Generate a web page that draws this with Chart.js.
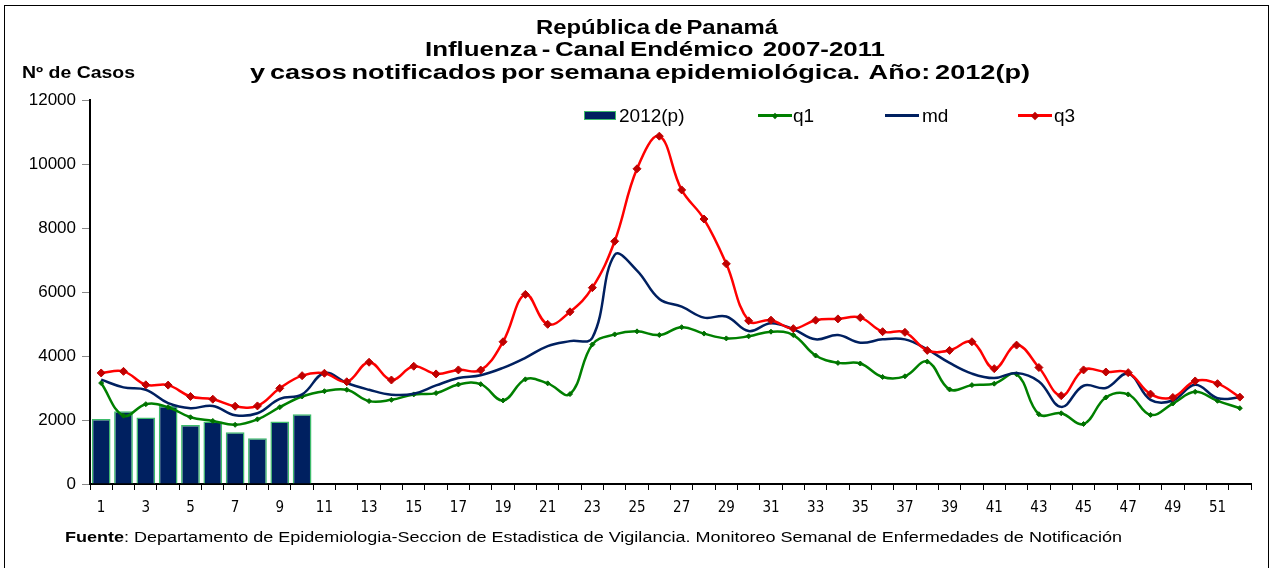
<!DOCTYPE html>
<html>
<head>
<meta charset="utf-8">
<script src="https://cdn.jsdelivr.net/npm/chart.js@4.4.0/dist/chart.umd.min.js"></script>
<style>
  body { margin: 0; background: #fff; font-family: 'Liberation Sans', Arial, sans-serif; color: #000; }
  #marco { position: absolute; left: 4px; top: 5px; width: 1263px; height: 620px; border: 1px solid #000; }
  #contenedor { position: absolute; left: 0; top: 0; width: 1273px; height: 568px; }
  .ajustar { position: absolute; white-space: nowrap; transform-origin: 0 50%; }
  .titulo { font-weight: bold; font-size: 20px; line-height: 22px; word-spacing: -2px; }
  #ejeY { top: 64px; font-weight: bold; font-size: 16px; }
  #fuente { top: 529px; font-size: 14px; }
  .ley { position: absolute; top: 106px; font-size: 19px; line-height: 20px; }
  .muestra { position: absolute; }
</style>
</head>
<body>
<div id="marco"></div>
<div id="contenedor"><canvas id="grafica" width="1273" height="568"></canvas></div>

<div class="ajustar titulo" id="t1" style="top:16px">República de Panamá</div>
<div class="ajustar titulo" id="t2" style="top:38px">Influenza - Canal Endémico&nbsp; 2007-2011</div>
<div class="ajustar titulo" id="t3" style="top:61px">y casos notificados por semana epidemiológica.&nbsp; Año: 2012(p)</div>
<div class="ajustar" id="ejeY">Nº de Casos</div>

<div id="leyenda"></div>

<div class="ajustar" id="fuente"><b>Fuente</b>: Departamento de Epidemiologia-Seccion de Estadistica de Vigilancia. Monitoreo Semanal de Enfermedades de Notificación</div>

<script>
// --- DATOS ---
const semanas = ['1','2','3','4','5','6','7','8','9','10','11','12','13','14','15','16','17','18','19','20',
  '21','22','23','24','25','26','27','28','29','30','31','32','33','34','35','36','37','38','39','40',
  '41','42','43','44','45','46','47','48','49','50','51','52'];

const casos2012 = [2030, 2270, 2080, 2440, 1840, 1950, 1615, 1430, 1950, 2180];

const q1 = [3155, 2135, 2495, 2400, 2085, 1970, 1850, 2020, 2400, 2735,
  2900, 2945, 2590, 2630, 2800, 2840, 3110, 3120, 2610, 3270,
  3145, 2810, 4360, 4675, 4770, 4655, 4900, 4700, 4550, 4615,
  4760, 4655, 4015, 3785, 3765, 3345, 3365, 3825, 2955, 3090,
  3135, 3430, 2180, 2210, 1875, 2705, 2800, 2160, 2515, 2880,
  2600, 2370];

const md = [3260, 3020, 2945, 2525, 2370, 2440, 2150, 2210, 2660, 2800,
  3470, 3155, 2945, 2790, 2820, 3080, 3310, 3400, 3630, 3945,
  4310, 4465, 4570, 7160, 6670, 5780, 5540, 5200, 5235, 4780,
  5025, 4835, 4520, 4655, 4415, 4520, 4520, 4205, 3785, 3450,
  3310, 3470, 3205, 2410, 3070, 3000, 3450, 2630, 2610, 3100,
  2685, 2700];

const q3 = [3470, 3520, 3100, 3090, 2735, 2650, 2430, 2440, 2990, 3385,
  3460, 3195, 3805, 3250, 3680, 3440, 3565, 3560, 4445, 5925,
  4990, 5380, 6135, 7585, 9850, 10870, 9190, 8280, 6880, 5100,
  5120, 4855, 5120, 5160, 5200, 4760, 4740, 4175, 4175, 4445,
  3605, 4340, 3640, 2760, 3565, 3500, 3480, 2810, 2705, 3220,
  3135, 2715];

const colorBarra = '#002060';
const bordeBarra = '#3dbb6b';
const colorQ1 = '#008000';
const colorMd = '#002060';
const colorQ3 = '#ff0000';

// Estira un texto en horizontal para que ocupe [izq, der]
function ajustarAncho(id, izq, der) {
  const el = document.getElementById(id);
  const natural = el.getBoundingClientRect().width;
  el.style.left = izq + 'px';
  el.style.transform = `scaleX(${(der - izq) / natural})`;
}
ajustarAncho('t1', 536, 778);
ajustarAncho('t2', 425, 885);
ajustarAncho('t3', 250, 1030);
ajustarAncho('ejeY', 22, 135);
ajustarAncho('fuente', 65, 1122);

// Leyenda en HTML (dentro del área de la gráfica)
function crearLeyenda() {
  const ley = document.getElementById('leyenda');
  const items = [
    { tipo: 'barra', x: 584, texto: '2012(p)', tx: 619 },
    { tipo: 'linea', x: 758, color: colorQ1, marca: '#007000', r: 3, texto: 'q1', tx: 793 },
    { tipo: 'linea', x: 885, color: colorMd, marca: null, texto: 'md', tx: 922 },
    { tipo: 'linea', x: 1018, color: colorQ3, marca: '#c00000', r: 4, texto: 'q3', tx: 1054 }
  ];
  let html = '';
  items.forEach(it => {
    if (it.tipo === 'barra') {
      html += `<div class="muestra" style="left:${it.x}px;top:111px;width:30px;height:7px;background:${colorBarra};border:1px solid ${bordeBarra};"></div>`;
    } else {
      html += `<div class="muestra" style="left:${it.x}px;top:114px;width:34px;height:3px;background:${it.color};"></div>`;
      if (it.marca) {
        html += `<div class="muestra" style="left:${it.x + 17 - it.r}px;top:${115.5 - it.r}px;width:${it.r * 2}px;height:${it.r * 2}px;background:${it.marca};transform:rotate(45deg) scale(0.75);"></div>`;
      }
    }
    html += `<div class="ley" style="left:${it.tx}px">${it.texto}</div>`;
  });
  ley.innerHTML = html;
}
crearLeyenda();

const ctx = document.getElementById('grafica').getContext('2d');
const miGrafica = new Chart(ctx, {
  type: 'bar',
  data: {
    labels: semanas,
    datasets: [
      { type: 'line', label: 'q3', data: q3, borderColor: colorQ3, borderWidth: 2.5, tension: 0.4,
        pointStyle: 'rectRot', pointRadius: 4, pointBackgroundColor: '#c00000', pointBorderColor: '#c00000', pointBorderWidth: 1, order: 1 },
      { type: 'line', label: 'md', data: md, borderColor: colorMd, borderWidth: 2.5, tension: 0.4,
        pointRadius: 0, order: 2 },
      { type: 'line', label: 'q1', data: q1, borderColor: colorQ1, borderWidth: 2.5, tension: 0.4,
        pointStyle: 'rectRot', pointRadius: 2.5, pointBackgroundColor: '#007000', pointBorderColor: '#007000', pointBorderWidth: 1, order: 3 },
      { type: 'bar', label: '2012(p)', data: casos2012, backgroundColor: colorBarra, borderColor: bordeBarra,
        borderWidth: 1.5, categoryPercentage: 1.0, barPercentage: 0.84, order: 4 }
    ]
  },
  options: {
    responsive: false,
    animation: false,
    layout: { padding: { top: 100, right: 22, left: 0, bottom: 0 } },
    plugins: { legend: { display: false }, tooltip: { enabled: false } },
    scales: {
      x: {
        afterFit: s => { s.height = 84; },
        grid: { drawOnChartArea: false, tickLength: 6, color: '#000', lineWidth: 1 },
        border: { display: true, color: '#000', width: 2 },
        ticks: {
          autoSkip: false, maxRotation: 0, padding: 9, color: '#000',
          font: { family: "'Liberation Sans Narrow', 'DejaVu Sans Condensed', Arial", size: 15 },
          callback: (v, i) => (i % 2 === 0 ? semanas[i] : '')
        }
      },
      y: {
        min: 0, max: 12000,
        afterFit: s => { s.width = 90; },
        grid: { drawOnChartArea: false, tickLength: 8, color: '#888' },
        border: { display: true, color: '#000', width: 2 },
        ticks: { stepSize: 2000, padding: 6, color: '#000', font: { family: "'Liberation Sans', Arial", size: 17 },
          callback: v => String(v) }
      }
    }
  }
});
</script>
</body>
</html>
